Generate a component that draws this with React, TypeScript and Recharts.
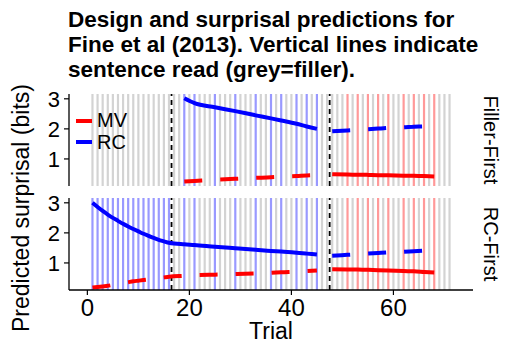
import React from 'react';
import { LineChart, Line, XAxis, YAxis, ReferenceLine } from 'recharts';

// trial numbers of the vertical lines, by sentence type
const greyFillerFirst = [1, 2, 3, 4, 5, 6, 7, 8, 9, 10, 11, 12, 13, 14, 15, 16, 17, 18, 20, 22, 23, 24, 26, 27, 28, 30, 31, 32, 34, 35, 37, 39, 40, 42, 44, 46, 47, 48, 49, 50, 52, 54, 56, 58, 60, 61, 63, 65, 67, 69, 70, 71];
const blueFillerFirst = [19, 21, 25, 29, 33, 36, 38, 41, 43, 45];
const greyRcFirst = [17, 18, 20, 22, 23, 24, 26, 27, 28, 30, 31, 32, 34, 35, 37, 39, 40, 42, 44, 46, 47, 48, 49, 50, 52, 54, 56, 58, 60, 61, 63, 65, 67, 69, 70, 71];
const blueRcFirst = [1, 2, 3, 4, 5, 6, 7, 8, 9, 10, 11, 12, 13, 14, 15, 16, 19, 21, 25, 29, 33, 36, 38, 41, 43, 45];
const redTrials = [51, 53, 55, 57, 59, 62, 64, 66, 68];
const blockEdges = [16.5, 47.5];

// surprisal predictions
const ffRcTrials = [19, 21, 25, 29, 33, 36, 38, 41, 43, 45];
const ffRcRead = [3.02, 2.86, 2.72, 2.59, 2.45, 2.35, 2.28, 2.17, 2.08, 2.0];
const ffMvUnread = [0.25, 0.27, 0.31, 0.34, 0.37, 0.39, 0.41, 0.43, 0.45, 0.46];
const mvTrials = [48, 51, 53, 55, 57, 59, 62, 64, 66, 68];
const ffMvRead = [0.49, 0.48, 0.475, 0.47, 0.46, 0.455, 0.445, 0.44, 0.43, 0.42];
const ffRcUnread = [1.92, 1.95, 1.97, 1.99, 2.01, 2.03, 2.05, 2.07, 2.08, 2.1];

const rfRcTrials = [1, 2, 3, 4, 5, 6, 7, 8, 9, 10, 11, 12, 13, 14, 15, 16, 19, 21, 25, 29, 33, 36, 38, 41, 43, 45];
const rfRcRead = [3.0, 2.86, 2.73, 2.61, 2.5, 2.4, 2.3, 2.21, 2.13, 2.05, 1.97, 1.9, 1.83, 1.77, 1.72, 1.67, 1.62, 1.6, 1.54, 1.49, 1.44, 1.4, 1.38, 1.34, 1.31, 1.28];
const rfMvUnread = [0.18, 0.2, 0.22, 0.24, 0.27, 0.3, 0.33, 0.36, 0.39, 0.41, 0.43, 0.45, 0.47, 0.5, 0.52, 0.54, 0.57, 0.59, 0.61, 0.63, 0.65, 0.67, 0.69, 0.71, 0.73, 0.75];
const rfMvRead = [0.79, 0.785, 0.78, 0.77, 0.76, 0.75, 0.73, 0.72, 0.7, 0.68];
const rfRcUnread = [1.24, 1.27, 1.29, 1.31, 1.33, 1.35, 1.37, 1.39, 1.41, 1.43];

const xTicks = [0, 20, 40, 60];
const yTicks = [1, 2, 3];
const titleLines = ['Design and surprisal predictions for', 'Fine et al (2013). Vertical lines indicate', 'sentence read (grey=filler).'];

const X_DOMAIN: [number, number] = [-3.6, 75.6];
const Y_DOMAIN: [number, number] = [0.1, 3.16];
const FONT = '"Liberation Sans", Arial, Helvetica, sans-serif';
const RED = '#ff0000';
const BLUE = '#0000ff';

const zip = (xs: number[], ys: number[]) => xs.map((trial, i) => ({ trial, v: ys[i] }));

type Series = { id: string; data: { trial: number; v: number }[]; color: string; dashed: boolean };

function Panel({ top, height, margin, grey, blue, series, showX }: {
  top: number; height: number; margin: any; grey: number[]; blue: number[]; series: Series[]; showX: boolean;
}) {
  return (
    <div style={{ position: 'absolute', left: 0, top }}>
      <LineChart width={514} height={height} margin={margin}>
        <XAxis
          type="number"
          dataKey="trial"
          domain={X_DOMAIN}
          ticks={xTicks}
          interval={0}
          allowDataOverflow
          height={showX ? 54 : 0}
          tick={showX ? { fontSize: 24, fill: '#000', fontFamily: FONT } : false}
          tickLine={showX ? { stroke: '#000', strokeWidth: 1.2 } : false}
          tickSize={5}
          tickMargin={4}
          axisLine={{ stroke: '#000', strokeWidth: 1.3 }}
        />
        <XAxis xAxisId="top" orientation="top" type="number" domain={X_DOMAIN} height={0} tick={false} tickLine={false} axisLine={{ stroke: '#000', strokeWidth: 1.3 }} />
        <YAxis
          type="number"
          domain={Y_DOMAIN}
          ticks={yTicks}
          interval={0}
          allowDataOverflow
          width={69}
          tick={{ fontSize: 22, fill: '#000', fontFamily: FONT }}
          tickLine={{ stroke: '#000', strokeWidth: 1.2 }}
          tickSize={5}
          tickMargin={4}
          axisLine={{ stroke: '#000', strokeWidth: 1.3 }}
        />
        <YAxis yAxisId="right" orientation="right" type="number" domain={Y_DOMAIN} width={0} tick={false} tickLine={false} axisLine={{ stroke: '#d9d9d9', strokeWidth: 1 }} />
        {grey.map((t) => (
          <ReferenceLine key={`g${t}`} x={t} stroke="#d3d3d3" strokeWidth={2.2} />
        ))}
        {blue.map((t) => (
          <ReferenceLine key={`b${t}`} x={t} stroke="#9999ff" strokeWidth={2.2} />
        ))}
        {redTrials.map((t) => (
          <ReferenceLine key={`r${t}`} x={t} stroke="#ff9999" strokeWidth={2.2} />
        ))}
        {blockEdges.map((t) => (
          <ReferenceLine key={`e${t}`} x={t} stroke="#000" strokeWidth={1.8} strokeDasharray="5 4" />
        ))}
        {series.map((s) => (
          <Line
            key={s.id}
            data={s.data}
            dataKey="v"
            type="monotone"
            stroke={s.color}
            strokeWidth={4}
            strokeDasharray={s.dashed ? '18 18' : undefined}
            dot={false}
            activeDot={false}
            isAnimationActive={false}
          />
        ))}
      </LineChart>
    </div>
  );
}

export default function App() {
  const fillerFirst: Series[] = [
    { id: 'ffRcRead', data: zip(ffRcTrials, ffRcRead), color: BLUE, dashed: false },
    { id: 'ffMvUnread', data: zip(ffRcTrials, ffMvUnread), color: RED, dashed: true },
    { id: 'ffMvRead', data: zip(mvTrials, ffMvRead), color: RED, dashed: false },
    { id: 'ffRcUnread', data: zip(mvTrials, ffRcUnread), color: BLUE, dashed: true },
  ];
  const rcFirst: Series[] = [
    { id: 'rfRcRead', data: zip(rfRcTrials, rfRcRead), color: BLUE, dashed: false },
    { id: 'rfMvUnread', data: zip(rfRcTrials, rfMvUnread), color: RED, dashed: true },
    { id: 'rfMvRead', data: zip(mvTrials, rfMvRead), color: RED, dashed: false },
    { id: 'rfRcUnread', data: zip(mvTrials, rfRcUnread), color: BLUE, dashed: true },
  ];

  return (
    <div style={{ position: 'absolute', left: 0, top: 0, width: 514, height: 344, background: '#fff', overflow: 'hidden', fontFamily: FONT }}>
      <Panel top={0} height={190} margin={{ top: 94, right: 41, bottom: 4, left: 0 }} grey={greyFillerFirst} blue={blueFillerFirst} series={fillerFirst} showX={false} />
      <Panel top={190} height={154} margin={{ top: 8, right: 41, bottom: 0, left: 0 }} grey={greyRcFirst} blue={blueRcFirst} series={rcFirst} showX />
      <svg width={514} height={344} style={{ position: 'absolute', left: 0, top: 0, pointerEvents: 'none' }} fontFamily={FONT}>
        {titleLines.map((line, i) => (
          <text key={i} x={68} y={27 + i * 25} fontSize={22.5} fontWeight="bold" fill="#000">{line}</text>
        ))}
        <text x={21} y={208} transform="rotate(-90 21 208)" textAnchor="middle" dominantBaseline="central" fontSize={23} fill="#000">Predicted surprisal (bits)</text>
        <text x={271} y={339} textAnchor="middle" fontSize={23} fill="#000">Trial</text>
        <text x={491} y={140} transform="rotate(90 491 140)" textAnchor="middle" dominantBaseline="central" fontSize={20} fill="#000">Filler-First</text>
        <text x={491} y={244} transform="rotate(90 491 244)" textAnchor="middle" dominantBaseline="central" fontSize={20} fill="#000">RC-First</text>
        <line x1={76} x2={92} y1={121} y2={121} stroke={RED} strokeWidth={4} />
        <text x={97} y={120} dominantBaseline="central" fontSize={20} fill="#000">MV</text>
        <line x1={76} x2={92} y1={142} y2={142} stroke={BLUE} strokeWidth={4} />
        <text x={97} y={142} dominantBaseline="central" fontSize={20} fill="#000">RC</text>
      </svg>
    </div>
  );
}
